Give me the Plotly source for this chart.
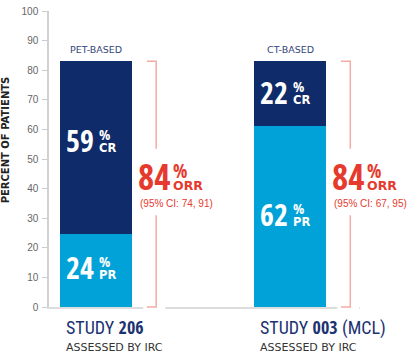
import plotly.graph_objects as go

# ---------------- data ----------------
studies = ["<span style='font-family:Roboto Condensed'>STUDY</span> <b>206</b>",
           "<span style='font-family:Roboto Condensed'>STUDY</span> <b>003</b> "
           "<span style='font-family:Roboto Condensed'>(MCL)</span>"]
assessed = ["ASSESSED BY IRC", "ASSESSED BY IRC"]
methods = ["PET-BASED", "CT-BASED"]
pr_values = [24.6, 61.2]
cr_values = [58.4, 21.8]
pr_labels = ["24", "62"]
cr_labels = ["59", "22"]
orr_labels = ["84", "84"]
ci_labels = ["(95% CI: 74, 91)", "(95% CI: 67, 95)"]
y_ticks = [0, 10, 20, 30, 40, 50, 60, 70, 80, 90, 100]
y_title = "PERCENT OF PATIENTS"

# ---------------- style ----------------
NAVY = "#0f2b69"
LIGHT = "#00a2d8"
RED = "#e63a2e"
BRACKET = "#f5aaa4"
METHOD_C = "#34477a"
STUDY_C = "#1c3272"
COND = "Open Sans Condensed"
WIDE = "DejaVu Sans"

XPOS = [0, 1]
BAR_W = 0.371
X_RANGE = [-0.242, 1.36]
Y_MAX = 100
BR_OFF = 0.31      # bracket offset from bar centre (x units)
HOOK = 0.048       # bracket hook length (x units)
GAP_UP = 12.0      # bracket break above mid (y units)
GAP_DN = 10.5      # bracket break below mid (y units)
PX_X = 194.0       # approx pixels per x unit (for small covers)
PR_SHIFT = [3, 2]  # pixel nudges of the in-bar labels
CR_SHIFT = [7, 1]

totals = [p + c for p, c in zip(pr_values, cr_values)]

fig = go.Figure()
fig.add_bar(x=XPOS, y=pr_values, marker=dict(color=LIGHT, line=dict(width=0)),
            width=BAR_W, hoverinfo="skip")
fig.add_bar(x=XPOS, y=cr_values, marker=dict(color=NAVY, line=dict(width=0)),
            width=BAR_W, hoverinfo="skip")

shapes = []
ann = []


def stacked_suffix(pct_size, pct_family, word, word_size, color):
    return (f"<span style='font-family:{pct_family};font-size:{pct_size}px;font-weight:700;color:{color}'>%</span><br>"
            f"<span style='font-family:{WIDE};font-size:{word_size}px;font-weight:700;color:{color}'>{word}</span>")


def value_label(x, cy, num, suffix, base, size=30, psize=15, ssize=11.5):
    ann.append(dict(x=x, y=cy, xref="x", yref="y", text=num, showarrow=False, borderpad=0,
                    xanchor="right", yanchor="middle", xshift=-1, yshift=base,
                    font=dict(family=COND, size=size, color="white", weight=700)))
    ann.append(dict(x=x, y=cy, xref="x", yref="y", text=stacked_suffix(psize, COND, suffix, ssize, "white"),
                    showarrow=False, borderpad=0, align="left",
                    xanchor="left", yanchor="middle", xshift=2, yshift=base + 1,
                    font=dict(family=COND, size=9.3, color="white")))


for i, x in enumerate(XPOS):
    tot = totals[i]
    # method label above bar
    ann.append(dict(x=x, y=tot, xref="x", yref="y", text=methods[i], showarrow=False,
                    xanchor="center", yanchor="middle", yshift=12,
                    font=dict(family=WIDE, size=9.5, color=METHOD_C)))
    # segment labels
    value_label(x, pr_values[i] / 2, pr_labels[i], "PR", PR_SHIFT[i])
    value_label(x, pr_values[i] + cr_values[i] / 2, cr_labels[i], "CR", CR_SHIFT[i])

    # bracket
    bx = x + BR_OFF
    mid = tot / 2
    shapes.append(dict(type="rect", xref="x", yref="paper", x0=bx - 13 / PX_X, x1=bx + 9 / PX_X,
                       y0=-0.015, y1=0.003, fillcolor="white", line=dict(width=0), layer="above"))
    line = dict(color=BRACKET, width=1.5)
    shapes.append(dict(type="path", xref="x", yref="paper", layer="above",
                       path=f"M {bx - HOOK} {tot / Y_MAX} L {bx} {tot / Y_MAX} L {bx} {(mid + GAP_UP) / Y_MAX}",
                       line=line))
    shapes.append(dict(type="path", xref="x", yref="paper", layer="above",
                       path=f"M {bx} {(mid - GAP_DN) / Y_MAX} L {bx} 0 L {bx - HOOK} 0",
                       line=line))
    # ORR label
    oy = 8
    ann.append(dict(x=bx, y=mid, xref="x", yref="y", text=orr_labels[i], showarrow=False, borderpad=0,
                    xanchor="right", yanchor="middle", xshift=15, yshift=oy,
                    font=dict(family=COND, size=35, color=RED, weight=700)))
    ann.append(dict(x=bx, y=mid, xref="x", yref="y", text=stacked_suffix(19, COND, "ORR", 12.5, RED),
                    showarrow=False, borderpad=0, align="left",
                    xanchor="left", yanchor="middle", xshift=16, yshift=oy + 1,
                    font=dict(family=COND, size=9.2, color=RED)))
    ann.append(dict(x=bx, y=mid, xref="x", yref="y", text=ci_labels[i], showarrow=False, borderpad=0,
                    xanchor="center", yanchor="middle", xshift=20, yshift=-19.5,
                    font=dict(family="Liberation Sans", size=10, color=RED)))
    # bottom labels
    ann.append(dict(x=x, y=0, xref="x", yref="paper", text=studies[i], showarrow=False,
                    xanchor="left", yanchor="middle", xshift=-32, yshift=-20,
                    font=dict(family=COND, size=18, color=STUDY_C)))
    ann.append(dict(x=x, y=0, xref="x", yref="paper", text=assessed[i], showarrow=False,
                    xanchor="left", yanchor="middle", xshift=-32, yshift=-40,
                    font=dict(family=WIDE, size=11, color="#333333")))

# y-axis title
ann.append(dict(x=0, y=0.563, xref="paper", yref="paper", text=y_title, showarrow=False,
                textangle=-90, xanchor="center", yanchor="middle", xshift=-44,
                font=dict(family=WIDE, size=10, color="#222222", weight=700)))

fig.update_layout(
    width=412, height=356,
    margin=dict(l=49, r=52, t=5, b=49),
    paper_bgcolor="white", plot_bgcolor="white",
    barmode="stack", bargap=0, showlegend=False,
    shapes=shapes, annotations=ann,
    xaxis=dict(range=X_RANGE, showticklabels=False, ticks="", showgrid=False, zeroline=False,
               showline=True, linecolor="#dddddd", linewidth=2, fixedrange=True),
    yaxis=dict(range=[0, Y_MAX], tickvals=y_ticks, ticks="outside", ticklen=5, tickcolor="#cccccc",
               tickwidth=1, showgrid=False, zeroline=False, showline=True, linecolor="#d0d0d0",
               linewidth=1.5, tickfont=dict(family="Liberation Sans", size=10, color="#666666"),
               ticklabeloverflow="allow", ticklabelstandoff=2, fixedrange=True),
)

fig.write_html("out.html", config={"displayModeBar": False},
               post_script="document.body.style.margin='0px';")
